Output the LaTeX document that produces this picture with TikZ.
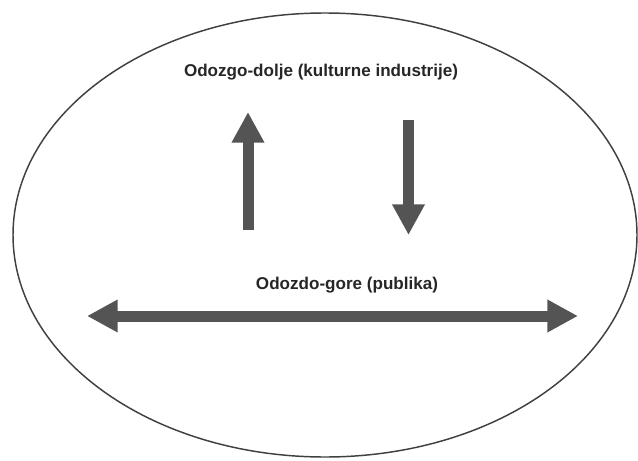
\documentclass[tikz,border=0pt]{standalone}
\usepackage{fontspec}
\setmainfont{Liberation Sans}
\usetikzlibrary{arrows.meta}

\begin{document}
\begin{tikzpicture}
                \tikzset{x={(0.75pt, 0pt)}, y={(0pt, -0.75pt)}}
                \tikzset{flow/.style={draw=black!67, line width=8.25pt, -{Triangle[width=23pt, length=23pt]}},
                         label/.style={font=\bfseries\fontsize{12.8}{14}\selectfont, text=black!85, inner sep=0pt}}
                \useasboundingbox (0, 0) rectangle (638, 460);
                \draw[black!75, line width=1.1pt] (325, 235) ellipse (312 and 222);
                % top label and vertical arrows
                \node[label] (top) at (321, 72) {Odozgo-dolje (kulturne industrije)};
                \coordinate (upfrom) at (248, 230);
                \coordinate (upto) at (248, 112);
                \coordinate (downfrom) at (408.5, 120);
                \coordinate (downto) at (408.5, 235);
                \draw[flow] (upfrom) -- (upto);
                \draw[flow] (downfrom) -- (downto);
                % bottom label and horizontal arrow
                \node[label] (bottom) at (347, 285) {Odozdo-gore (publika)};
                \coordinate (left) at (87, 316);
                \coordinate (right) at (578, 316);
                \draw[flow, {Triangle[width=23pt, length=23pt]}-{Triangle[width=23pt, length=23pt]}] (left) -- (right);
            \end{tikzpicture}
\end{document}
